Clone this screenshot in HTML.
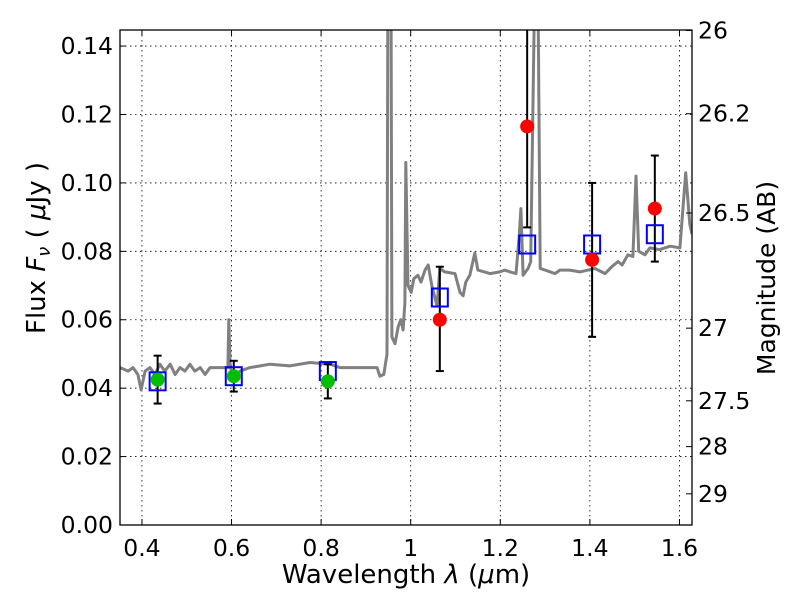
<!DOCTYPE html>
<html><head><meta charset="utf-8"><style>
body{margin:0;background:#fff}
svg text{font-family:"DejaVu Sans","Liberation Sans",sans-serif;fill:#000}
</style></head><body>
<svg id="chart" width="800" height="600" xmlns="http://www.w3.org/2000/svg">
<defs><clipPath id="clip"><rect x="120" y="30" width="572" height="495"/></clipPath></defs>
<rect width="800" height="600" fill="#fff"/>
<g id="grid"></g>
<g id="plot" clip-path="url(#clip)"></g>
<g id="axes"></g>
<rect x="120" y="30" width="572" height="495" fill="none" stroke="#000" stroke-width="1.3"/>
<text x="406" y="583" font-size="26" text-anchor="middle">Wavelength  <tspan font-style="italic">λ</tspan> (<tspan font-style="italic">μ</tspan>m)</text>
<text transform="translate(45,248) rotate(-90)" font-size="26" text-anchor="middle">Flux  <tspan font-style="italic">F<tspan font-size="18" dy="5">ν</tspan></tspan><tspan dy="-5"> ( </tspan><tspan font-style="italic">μ</tspan>Jy )</text>
<text transform="translate(775,278) rotate(-90)" font-size="25" text-anchor="middle">Magnitude (AB)</text>
</svg>
<script>
const xTicks=[0.4,0.6,0.8,1.0,1.2,1.4,1.6];
const xTickLabels=["0.4","0.6","0.8","1","1.2","1.4","1.6"];
const yTicks=[0,0.02,0.04,0.06,0.08,0.10,0.12,0.14];
const yTickLabels=["0.00","0.02","0.04","0.06","0.08","0.10","0.12","0.14"];
const magTicks=[26,26.2,26.5,27,27.5,28,29];
const magTickLabels=["26","26.2","26.5","27","27.5","28","29"];
const specWave=[0.351,0.369,0.380,0.391,0.398,0.407,0.418,0.429,0.440,0.451,0.463,0.474,0.485,0.496,0.507,0.518,0.530,0.541,0.552,0.563,0.592,0.594,0.597,0.608,0.619,0.641,0.664,0.686,0.730,0.775,0.820,0.842,0.876,0.909,0.925,0.931,0.940,0.947,0.949,0.956,0.958,0.965,0.972,0.978,0.983,0.987,0.989,0.994,1.001,1.007,1.016,1.023,1.032,1.039,1.047,1.059,1.065,1.076,1.099,1.110,1.117,1.123,1.132,1.143,1.150,1.177,1.199,1.210,1.222,1.235,1.242,1.246,1.251,1.262,1.268,1.277,1.284,1.289,1.300,1.322,1.333,1.355,1.378,1.411,1.434,1.449,1.463,1.472,1.485,1.496,1.503,1.509,1.523,1.534,1.556,1.579,1.601,1.614,1.623,1.628];
const specFlux=[0.046,0.045,0.046,0.044,0.0395,0.045,0.046,0.044,0.047,0.045,0.047,0.044,0.046,0.045,0.047,0.045,0.046,0.044,0.046,0.046,0.046,0.060,0.046,0.043,0.045,0.046,0.0465,0.047,0.0465,0.0475,0.047,0.046,0.046,0.046,0.046,0.0435,0.044,0.050,0.16,0.16,0.055,0.053,0.058,0.060,0.057,0.065,0.106,0.070,0.068,0.072,0.073,0.071,0.0745,0.076,0.070,0.064,0.075,0.074,0.0735,0.068,0.067,0.071,0.073,0.0795,0.0745,0.0735,0.074,0.0745,0.074,0.0735,0.084,0.0925,0.073,0.075,0.077,0.16,0.16,0.075,0.0745,0.0735,0.0745,0.0745,0.074,0.075,0.0735,0.0755,0.077,0.076,0.079,0.0785,0.102,0.080,0.079,0.081,0.0805,0.0815,0.081,0.103,0.088,0.085];
const modelWave=[0.435,0.605,0.815,1.065,1.26,1.405,1.545];
const modelFlux=[0.042,0.0435,0.045,0.0665,0.082,0.082,0.085];
const greenWave=[0.435,0.605,0.815];
const greenFlux=[0.0425,0.0435,0.042];
const greenLo=[0.0355,0.039,0.037];
const greenHi=[0.0495,0.048,0.047];
const redWave=[1.065,1.26,1.405,1.545];
const redFlux=[0.060,0.1165,0.0775,0.0925];
const redLo=[0.045,0.087,0.055,0.077];
const redHi=[0.0755,0.16,0.100,0.108];

const X0=120,X1=692,Y0=525,Y1=30,xmin=0.351,xmax=1.628,ymin=0,ymax=0.1447;
const sx=v=>X0+(v-xmin)/(xmax-xmin)*(X1-X0);
const sy=v=>Y0-(v-ymin)/(ymax-ymin)*(Y0-Y1);
const magToFlux=m=>Math.pow(10,(23.9-m)/2.5);
const NS="http://www.w3.org/2000/svg";
function mk(tag,attrs,parent){const e=document.createElementNS(NS,tag);for(const k in attrs)e.setAttribute(k,attrs[k]);parent.appendChild(e);return e;}
const grid=document.getElementById('grid'),plot=document.getElementById('plot'),axes=document.getElementById('axes');

xTicks.forEach((t,i)=>{const x=sx(t);
 const g=mk('line',{x1:x,x2:x,y1:Y1,y2:Y0,stroke:'#000','stroke-width':0.8,'stroke-dasharray':'1.5,3.5'},grid);
 
 
 const tk=mk('line',{x1:x,x2:x,y1:Y0,y2:Y0-6,stroke:'#000','stroke-width':1},axes);
 
 
 const tk2=mk('line',{x1:x,x2:x,y1:Y1,y2:Y1+6,stroke:'#000','stroke-width':1},axes);
 
 
 const tx=mk('text',{x:x,y:Y0+31,'font-size':23.5,'text-anchor':'middle'},axes);tx.textContent=xTickLabels[i];
 
 
});
yTicks.forEach((t,i)=>{const y=sy(t);
 const g=mk('line',{x1:X0,x2:X1,y1:y,y2:y,stroke:'#000','stroke-width':0.8,'stroke-dasharray':'1.5,3.5'},grid);
 
 
 const tk=mk('line',{x1:X0,x2:X0+6,y1:y,y2:y,stroke:'#000','stroke-width':1},axes);
 
 
 const tx=mk('text',{x:X0-7,y:y+8,'font-size':23.5,'text-anchor':'end'},axes);tx.textContent=yTickLabels[i];
 
 
});
magTicks.forEach((m,i)=>{const y=sy(magToFlux(m));
 const tk=mk('line',{x1:X1-6,x2:X1,y1:y,y2:y,stroke:'#000','stroke-width':1},axes);
 
 
 const tx=mk('text',{x:X1+6,y:y+8,'font-size':23.5,'text-anchor':'start'},axes);tx.textContent=magTickLabels[i];
 
 
});

const pts=specWave.map((w,i)=>sx(w).toFixed(1)+','+sy(specFlux[i]).toFixed(1)).join(' ');
const sp=mk('polyline',{points:pts,fill:'none',stroke:'#808080','stroke-width':3,'stroke-linejoin':'round'},plot);



function errbar(w,lo,hi){const x=sx(w);
 const l=mk('line',{x1:x,x2:x,y1:sy(lo),y2:sy(hi),stroke:'#000','stroke-width':2},plot);
 
 
 [lo,hi].forEach(v=>{const c=mk('line',{x1:x-4,x2:x+4,y1:sy(v),y2:sy(v),stroke:'#000','stroke-width':2},plot);
  
  });
}
greenWave.forEach((w,i)=>errbar(w,greenLo[i],greenHi[i]));
redWave.forEach((w,i)=>errbar(w,redLo[i],redHi[i]));
modelWave.forEach((w,i)=>{
 const r=mk('rect',{x:sx(w)-8,y:sy(modelFlux[i])-9,width:16,height:18,fill:'none',stroke:'#0000ff','stroke-width':2},plot);
 
 
});
greenWave.forEach((w,i)=>{
 const c=mk('circle',{cx:sx(w),cy:sy(greenFlux[i]),r:7,fill:'#00bf00'},plot);
 
 
});
redWave.forEach((w,i)=>{
 const c=mk('circle',{cx:sx(w),cy:sy(redFlux[i]),r:7,fill:'#ff0000'},plot);
 
 
});
</script>
</body></html>
